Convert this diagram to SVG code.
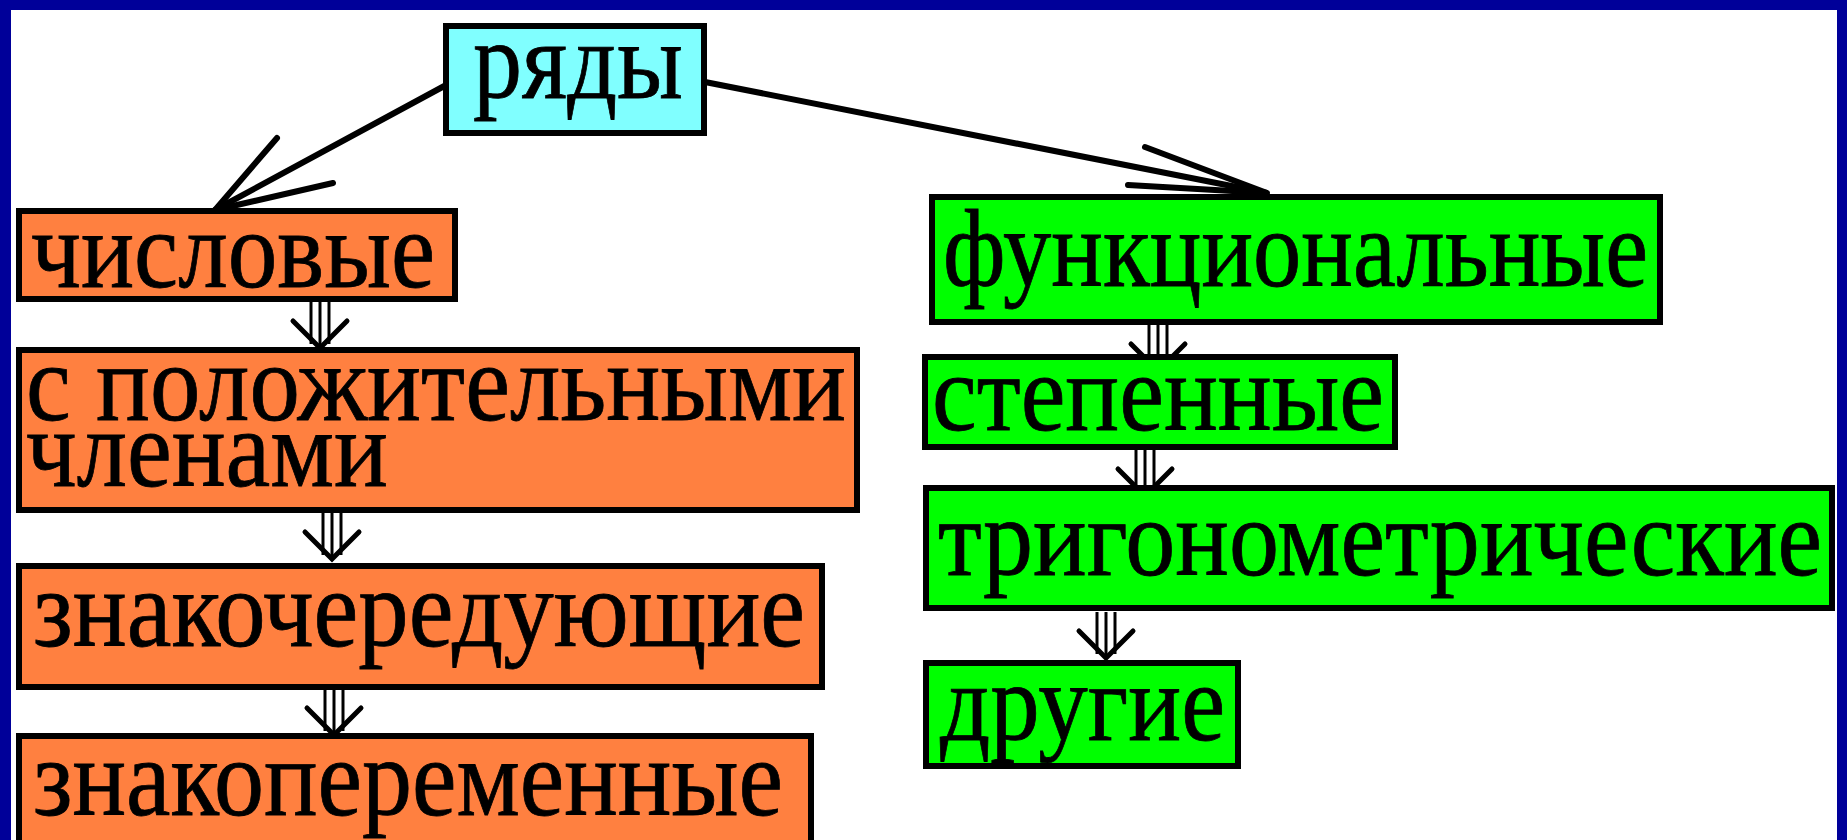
<svg xmlns="http://www.w3.org/2000/svg" width="1847" height="840" viewBox="0 0 1847 840">
  <defs>
    <style>
      .box { stroke: #000; stroke-width: 6; }
      .orange { fill: #FF8040; }
      .green { fill: #00FF00; }
      .cyan { fill: #80FFFF; }
      .lbl { font-family: "Liberation Serif", "Times New Roman", serif; font-size: 110px; fill: #000; stroke: #000; stroke-width: 0.8; }
      .conn { stroke: #000; stroke-width: 6; fill: none; stroke-linecap: round; }
      .dbl { stroke: #000; stroke-width: 3; fill: none; }
      .head { stroke: #000; stroke-width: 5; fill: none; stroke-linecap: round; stroke-linejoin: miter; }
    </style>
    <g id="darrow">
      <line class="dbl" x1="-9" y1="0" x2="-9" y2="42"/>
      <line class="dbl" x1="0" y1="0" x2="0" y2="46"/>
      <line class="dbl" x1="9" y1="0" x2="9" y2="42"/>
      <polyline class="head" points="-27,19 0,46 27,19"/>
    </g>
  </defs>

  <!-- frame -->
  <rect x="0" y="0" width="1847" height="840" fill="#000099"/>
  <rect x="11" y="10" width="1826" height="840" fill="#FFFFFF"/>

  <g id="connectors">
    <line class="conn" x1="448" y1="84" x2="215" y2="210"/>
    <polyline class="conn" points="277,138 215,210 333,183"/>
    <line class="conn" x1="705" y1="82" x2="1267" y2="193"/>
    <polyline class="conn" points="1145,147 1267,193 1128,185"/>
    <use href="#darrow" x="320" y="302"/>
    <use href="#darrow" x="332" y="513"/>
    <use href="#darrow" x="334" y="689"/>
    <use href="#darrow" x="1158" y="325"/>
    <use href="#darrow" x="1145" y="450"/>
    <use href="#darrow" x="1106" y="612"/>
  </g>

  <g id="node-ryady">
    <rect class="box cyan" x="446" y="26" width="258" height="107"/>
    <text class="lbl" x="473" y="98" textLength="210" lengthAdjust="spacingAndGlyphs">ряды</text>
  </g>

  <g id="node-chislovye">
    <rect class="box orange" x="19" y="211" width="436" height="88"/>
    <text class="lbl" x="31" y="287" textLength="404" lengthAdjust="spacingAndGlyphs">числовые</text>
  </g>

  <g id="node-polozhitelnymi">
    <rect class="box orange" x="19" y="350" width="838" height="160"/>
    <text class="lbl" x="26" y="420" textLength="820" lengthAdjust="spacingAndGlyphs">с положительными</text>
    <text class="lbl" x="26" y="486" textLength="362" lengthAdjust="spacingAndGlyphs">членами</text>
  </g>

  <g id="node-znakochereduyushchie">
    <rect class="box orange" x="19" y="566" width="803" height="121"/>
    <text class="lbl" x="33" y="646" textLength="772" lengthAdjust="spacingAndGlyphs">знакочередующие</text>
  </g>

  <g id="node-znakoperemennye">
    <rect class="box orange" x="19" y="736" width="792" height="120"/>
    <text class="lbl" x="33" y="815" textLength="750" lengthAdjust="spacingAndGlyphs">знакопеременные</text>
  </g>

  <g id="node-funktsionalnye">
    <rect class="box green" x="932" y="197" width="728" height="125"/>
    <text class="lbl" x="943" y="286" textLength="705" lengthAdjust="spacingAndGlyphs">функциональные</text>
  </g>

  <g id="node-stepennye">
    <rect class="box green" x="925" y="357" width="470" height="90"/>
    <text class="lbl" x="932" y="430" textLength="452" lengthAdjust="spacingAndGlyphs">степенные</text>
  </g>

  <g id="node-trigonometricheskie">
    <rect class="box green" x="926" y="488" width="906" height="120"/>
    <text class="lbl" x="938" y="575" textLength="884" lengthAdjust="spacingAndGlyphs">тригонометрические</text>
  </g>

  <g id="node-drugie">
    <rect class="box green" x="926" y="663" width="312" height="103"/>
    <text class="lbl" x="940" y="740" textLength="285" lengthAdjust="spacingAndGlyphs">другие</text>
  </g>
</svg>
